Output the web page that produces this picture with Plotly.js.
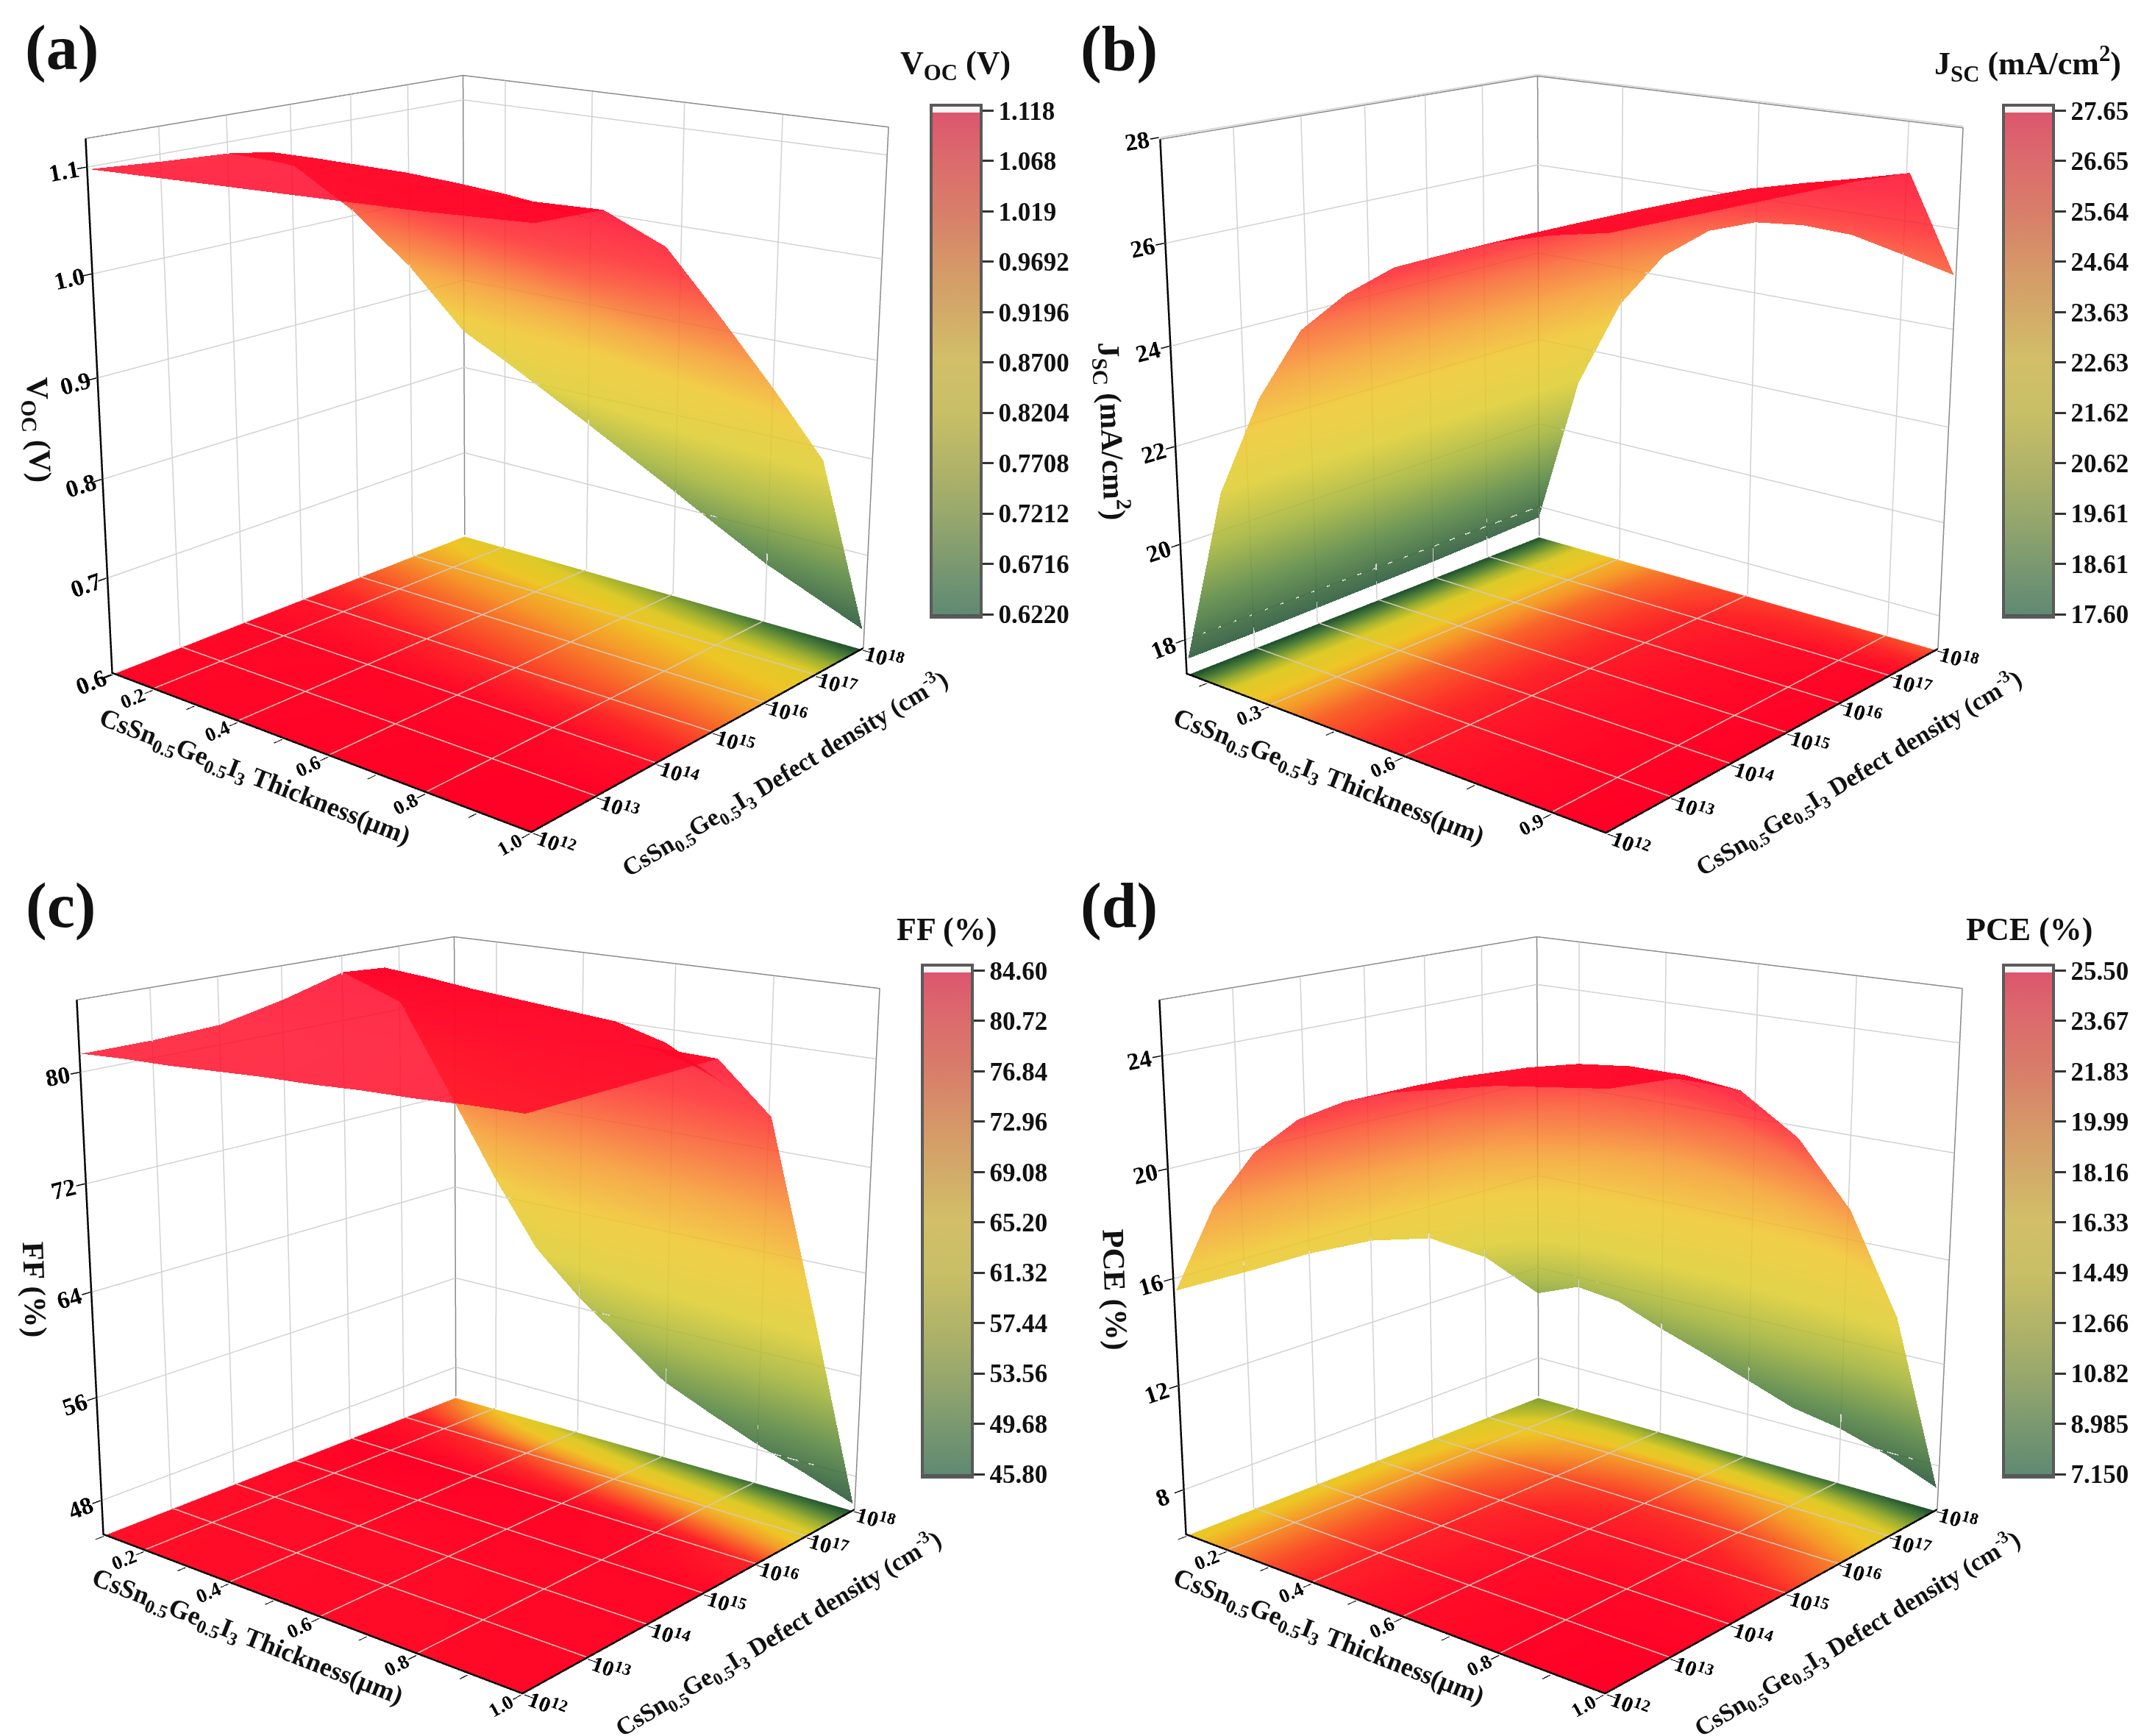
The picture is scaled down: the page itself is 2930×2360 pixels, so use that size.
<!DOCTYPE html>
<html><head><meta charset="utf-8">
<script src="https://cdn.plot.ly/plotly-3.0.1.min.js"></script>
<style>html,body{margin:0;padding:0;background:#fff;overflow:hidden;width:2930px;height:2360px}
#chart{position:absolute;left:0;top:-750px;width:2930px;height:3780px}</style>
</head><body><div id="chart"></div>
<script>
const thickness=[0.1,0.2,0.3,0.4,0.5,0.6,0.7,0.8,0.9,1.0];
const defectExp=[12,13,14,15,16,17,18];
const defectLabels=['10<sup>12</sup>','10<sup>13</sup>','10<sup>14</sup>','10<sup>15</sup>','10<sup>16</sup>','10<sup>17</sup>','10<sup>18</sup>'];

const voc=[
[1.098,1.100,1.102,1.104,1.106,1.108,1.110,1.112,1.115,1.118],
[1.093,1.096,1.099,1.102,1.105,1.107,1.109,1.111,1.113,1.115],
[1.089,1.097,1.098,1.098,1.098,1.096,1.093,1.088,1.080,1.070],
[1.066,1.060,1.050,1.040,1.030,1.020,1.010,1.005,1.000,0.990],
[1.005,0.995,0.985,0.975,0.965,0.955,0.945,0.930,0.920,0.907],
[0.930,0.920,0.910,0.900,0.890,0.875,0.860,0.850,0.835,0.820],
[0.842,0.819,0.794,0.769,0.743,0.717,0.690,0.664,0.643,0.622]];
const jsc=[
[17.60,21.30,23.40,24.90,25.75,26.40,26.80,27.17,27.45,27.65],
[17.60,21.30,23.40,24.90,25.75,26.40,26.80,27.15,27.42,27.60],
[17.62,21.30,23.40,24.90,25.75,26.38,26.78,27.12,27.38,27.55],
[17.64,21.30,23.40,24.88,25.72,26.35,26.75,27.08,27.33,27.50],
[17.66,21.28,23.38,24.85,25.70,26.30,26.70,27.02,27.27,27.45],
[17.70,21.25,23.30,24.75,25.55,26.10,26.50,26.80,27.10,27.35],
[17.75,21.20,23.20,24.45,25.16,25.50,25.60,25.56,25.33,25.09]];
const ff=[
[81.3,81.5,81.6,81.8,82.0,82.1,82.3,82.4,82.6,82.7],
[81.3,81.5,81.7,81.9,82.1,82.3,82.4,82.6,82.7,82.8],
[81.5,81.8,82.0,82.2,82.3,82.4,82.5,82.6,82.8,82.9],
[82.5,83.0,83.3,83.3,83.3,83.2,83.2,83.2,83.1,83.0],
[83.8,84.6,84.3,83.9,83.6,83.3,83.0,82.0,80.0,78.0],
[80.6,79.0,77.0,75.0,73.0,71.0,69.0,67.0,65.0,62.2],
[71.3,65.5,60.3,57.0,54.3,51.6,50.0,48.5,47.2,45.8]];
const pce=[
[15.56,19.00,21.25,22.70,23.60,24.20,24.60,25.00,25.25,25.50],
[15.50,19.00,21.25,22.70,23.60,24.20,24.60,25.00,25.20,25.30],
[15.50,18.90,21.10,22.50,23.40,24.00,24.40,24.60,24.60,24.40],
[15.30,18.60,20.80,22.10,22.90,23.40,23.60,23.50,23.10,22.30],
[14.70,17.90,19.80,21.00,21.70,22.00,21.90,21.40,20.50,19.20],
[13.20,15.90,17.50,18.40,18.80,18.80,18.30,17.40,16.20,14.60],
[10.90,11.60,11.40,10.70,10.10,9.45,8.80,8.47,7.90,7.15]];

const xTicksMain=[0.1,0.2,0.3,0.4,0.5,0.6,0.7,0.8,0.9,1.0];
const xTextMain=['','0.2','','0.4','','0.6','','0.8','','1.0'];
const xGridMain=[0.2,0.4,0.6,0.8];
const xTicksB=[0.15,0.3,0.45,0.6,0.75,0.9];
const xTextB=['','0.3','','0.6','','0.9'];
const xGridB=[0.3,0.6,0.9];

const cbVoc=['0.6220','0.6716','0.7212','0.7708','0.8204','0.8700','0.9196','0.9692','1.019','1.068','1.118'];
const cbJsc=['17.60','18.61','19.61','20.62','21.62','22.63','23.63','24.64','25.64','26.65','27.65'];
const cbFf=['45.80','49.68','53.56','57.44','61.32','65.20','69.08','72.96','76.84','80.72','84.60'];
const cbPce=['7.150','8.985','10.82','12.66','14.49','16.33','18.16','19.99','21.83','23.67','25.50'];

const thicknessTitle='CsSn<sub>0.5</sub>Ge<sub>0.5</sub>I<sub>3</sub> Thickness(μm)';
const densityTitle='CsSn<sub>0.5</sub>Ge<sub>0.5</sub>I<sub>3</sub> Defect density (cm<sup>-3</sup>)';

const PAGE_TOP=750,LW=2930,LH=3780,SCENE_W=1300,SCENE_H=2600;
const FONT='"Liberation Serif","Times New Roman",serif';
const fx=p=>p/LW, fy=p=>1-(p+PAGE_TOP)/LH;

const surfaceScale=[[0,'#1b4d2c'],[0.12,'#4f8038'],[0.25,'#9fb030'],[0.37,'#dcca28'],[0.5,'#eec526'],[0.62,'#f59a2a'],[0.72,'#f8642a'],[0.84,'#fd2428'],[0.92,'#ff0e28'],[1,'#ff0026']];
const barScale=[[0,'#555555'],[0.006,'#555555'],[0.006,'#5f8a72'],[0.1,'#7a9870'],[0.2,'#98a86c'],[0.3,'#b2b468'],[0.4,'#c8bf66'],[0.5,'#d2bf68'],[0.6,'#d2aa68'],[0.7,'#d69468'],[0.8,'#d87c6a'],[0.9,'#dc6a6c'],[0.985,'#dc566e'],[0.985,'#f6f6f6'],[1,'#f6f6f6']];

const panels=[
 {id:'scene', z:voc,lab:'(a)',lx:84,ly:65,cx:670,cy:551,bar:1266,barTop:143,barBot:839,zr:[0.6,1.128],zt:[0.6,0.7,0.8,0.9,1.0,1.1],ztxt:['0.6','0.7','0.8','0.9','1.0','1.1'],zTitle:'V<sub>OC</sub> (V)',cbT:'V<sub>OC</sub> (V)',tx:1299,ty:89,cb:cbVoc,xt:xTicksMain,xl:xTextMain,xg:xGridMain,
   zx:50,zy:584,xtx:346,xty:1057,ytx:1067,yty:1051},
 {id:'scene2',z:jsc,lab:'(b)',lx:1521,ly:66,cx:2131,cy:552,bar:2724,barTop:143,barBot:839,zr:[17.25,28],zt:[18,20,22,24,26,28],ztxt:['18','20','22','24','26','28'],zTitle:'J<sub>SC</sub> (mA/cm<sup>2</sup>)',cbT:'J<sub>SC</sub> (mA/cm<sup>2</sup>)',tx:2757,ty:87,cb:cbJsc,xt:xTicksB,xl:xTextB,xg:xGridB,
   zx:1512,zy:586,xtx:1806,xty:1057,ytx:2527,yty:1050},
 {id:'scene3',z:ff,lab:'(c)',lx:82,ly:1231,cx:658,cy:1722,bar:1254,barTop:1312,barBot:2008,zr:[45.2,85.2],zt:[48,56,64,72,80],ztxt:['48','56','64','72','80'],zTitle:'FF (%)',cbT:'FF (%)',tx:1287,ty:1263,cb:cbFf,xt:xTicksMain,xl:xTextMain,xg:xGridMain,
   zx:47,zy:1753,xtx:336,xty:2226,ytx:1058,yty:2220},
 {id:'scene4',z:pce,lab:'(d)',lx:1521,ly:1231,cx:2130,cy:1722,bar:2724,barTop:1312,barBot:2008,zr:[6.2,26],zt:[8,12,16,20,24],ztxt:['8','12','16','20','24'],zTitle:'PCE (%)',cbT:'PCE (%)',tx:2759,ty:1263,cb:cbPce,xt:xTicksMain,xl:xTextMain,xg:xGridMain,
   zx:1516,zy:1753,xtx:1806,xty:2226,ytx:2525,yty:2220}
];

const traces=[],annotations=[];
const layout={width:LW,height:LH,margin:{l:0,r:0,t:0,b:0},paper_bgcolor:'rgba(0,0,0,0)',showlegend:false,font:{family:FONT,color:'#000'}};

function lineTrace(scene,xs,ys,zs,color,width){
  return {type:'scatter3d',mode:'lines',scene,x:xs,y:ys,z:zs,line:{color,width},hoverinfo:'skip',showlegend:false};
}
function note(x,y,text,size,angle){
  annotations.push({xref:'paper',yref:'paper',x:fx(x),y:fy(y),text:'<b>'+text+'</b>',showarrow:false,xanchor:'center',yanchor:'middle',textangle:angle||0,font:{family:FONT,size:size,color:'#111'}});
}
panels.forEach(p=>{
  const xmin=thickness[0],xmax=thickness[thickness.length-1],ymin=defectExp[0],ymax=defectExp[defectExp.length-1];
  const [z0,z1]=p.zr, span=z1-z0, zFloor=z0+span*0.0008, zGrid=z0+span*0.003;
  const xa=xmin-0.002,xb=xmax+0.002,ya=ymin-0.02,yb=ymax+0.02,za=z0+span*0.003,zb=z1-span*0.003;
  const all=p.z.flat(), cmin=Math.min(...all), cmax=Math.max(...all);
  traces.push({type:'surface',scene:p.id,x:thickness,y:defectExp,z:p.z,cmin,cmax,colorscale:surfaceScale,showscale:false,opacity:0.84,
    lighting:{ambient:1,diffuse:0,specular:0,roughness:1,fresnel:0},hoverinfo:'skip'});
  traces.push({type:'surface',scene:p.id,x:thickness,y:defectExp,z:p.z.map(r=>r.map(()=>zFloor)),surfacecolor:p.z,cmin,cmax,colorscale:surfaceScale,showscale:false,opacity:1,
    lighting:{ambient:1,diffuse:0,specular:0,roughness:1,fresnel:0},hoverinfo:'skip'});
  let xs=[],ys=[],zs=[];
  p.xg.forEach(v=>{xs.push(v,v,null);ys.push(ymin,ymax,null);zs.push(zGrid,zGrid,null);});
  defectExp.slice(1,-1).forEach(v=>{xs.push(xmin,xmax,null);ys.push(v,v,null);zs.push(zGrid,zGrid,null);});
  traces.push(lineTrace(p.id,xs,ys,zs,'#d6c8b4',3));
  xs=[];ys=[];zs=[];
  p.xg.forEach(v=>{xs.push(v,v,null);ys.push(yb,yb,null);zs.push(za,zb,null);});
  defectExp.slice(1,-1).forEach(v=>{xs.push(xa,xa,null);ys.push(v,v,null);zs.push(za,zb,null);});
  p.zt.filter(v=>v>z0+span*0.01).forEach(v=>{xs.push(xa,xa,xb,null);ys.push(ya,yb,yb,null);zs.push(v,v,v,null);});
  traces.push(lineTrace(p.id,xs,ys,zs,'#d2d2d2',3));
  traces.push(lineTrace(p.id,[xa,xa,xb,xb,null,xa,xa],[ya,yb,yb,yb,null,yb,yb],[zb,zb,zb,za,null,za,zb],'#8a8a8a',3));
  traces.push(lineTrace(p.id,[xa,xa,xb,xb],[ya,ya,ya,yb],[zb,za,za,za],'#000000',5));
  const step=(cmax-cmin)/10, barMin=cmin-step*0.058, barMax=cmax+step*0.11;
  traces.push({type:'scatter3d',mode:'markers',scene:p.id,x:[xa,xa],y:[yb,yb],z:[za,za],hoverinfo:'skip',showlegend:false,
    marker:{size:1,opacity:0,color:[barMin,barMax],cmin:barMin,cmax:barMax,colorscale:barScale,showscale:true,
      colorbar:{x:fx(p.bar),xanchor:'left',xpad:0,ypad:0,y:fy((p.barTop+p.barBot)/2),yanchor:'middle',lenmode:'pixels',len:p.barBot-p.barTop,thicknessmode:'pixels',thickness:68,
        outlinecolor:'#5a5a5a',outlinewidth:4,ticks:'outside',ticklen:15,tickwidth:3,tickcolor:'#333',
        tickmode:'array',tickvals:p.cb.map((_,i)=>cmin+i*step),ticktext:p.cb,tickfont:{family:FONT,size:35,weight:'bold',color:'#111'}}}});
  layout[p.id]={
    domain:{x:[fx(p.cx-SCENE_W/2),fx(p.cx+SCENE_W/2)],y:[fy(p.cy+SCENE_H/2),fy(p.cy-SCENE_H/2)]},
    bgcolor:'rgba(0,0,0,0)',aspectmode:'manual',aspectratio:{x:1,y:1,z:1},
    camera:{eye:{x:2.584,y:-3.07,z:1.17},center:{x:0,y:0,z:0},up:{x:0,y:0,z:1}},
    xaxis:{range:[xmin-0.003,xmax+0.003],autorange:false,tickmode:'array',tickvals:p.xt,ticktext:p.xl,showgrid:false,zeroline:false,showbackground:false,showspikes:false,showline:false,ticks:'outside',ticklen:12,tickwidth:3,tickcolor:'#000',
      tickfont:{family:FONT,size:18,weight:'bold'},title:{text:''}},
    yaxis:{range:[ymin-0.03,ymax+0.03],autorange:false,tickmode:'array',tickvals:defectExp,ticktext:defectLabels,showgrid:false,zeroline:false,showbackground:false,showspikes:false,showline:false,ticks:'outside',ticklen:12,tickwidth:3,tickcolor:'#000',
      tickfont:{family:FONT,size:19,weight:'bold'},title:{text:''}},
    zaxis:{range:p.zr,autorange:false,tickmode:'array',tickvals:p.zt,ticktext:p.ztxt,showgrid:false,zeroline:false,showbackground:false,showspikes:false,showline:false,ticks:'outside',ticklen:12,tickwidth:3,tickcolor:'#000',
      tickfont:{family:FONT,size:20,weight:'bold'},title:{text:''}}
  };
  note(p.lx,p.ly,p.lab,86);
  note(p.tx,p.ty,p.cbT,44);
  note(p.zx,p.zy,p.zTitle,42,88);
  note(p.xtx,p.xty,thicknessTitle,36,21.4);
  note(p.ytx,p.yty,densityTitle,34,-31);
});
layout.annotations=annotations;
const chart=document.getElementById('chart');
Plotly.newPlot(chart,traces,layout,{displayModeBar:false,responsive:false,plotGlPixelRatio:1});
panels.forEach(p=>{try{chart._fullLayout[p.id]._scene.glplot.redraw();}catch(e){}});
</script></body></html>
